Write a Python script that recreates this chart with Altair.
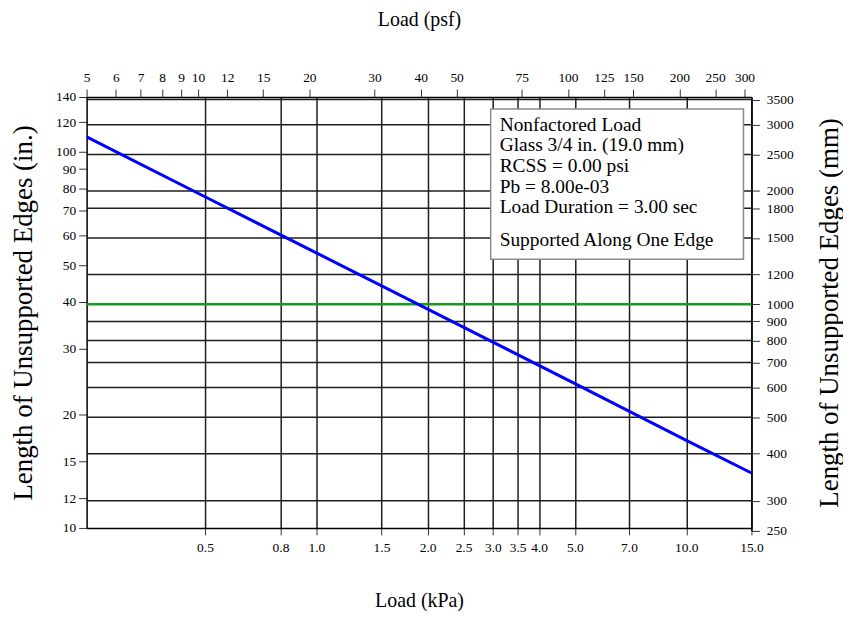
import altair as alt
import pandas as pd
import math

# ---- data ----
load_kpa = [0.2394, 0.5, 1.0, 2.0, 5.0, 10.0, 15.0]
length_in = [109.7, 76.0, 53.9, 38.2, 24.2, 17.1, 14.0]

kpa_ticks = [0.5, 0.8, 1.0, 1.5, 2.0, 2.5, 3.0, 3.5, 4.0, 5.0, 7.0, 10.0, 15.0]
psf_ticks = [5, 6, 7, 8, 9, 10, 12, 15, 20, 30, 40, 50, 75, 100, 125, 150, 200, 250, 300]
in_ticks = [10, 12, 15, 20, 30, 40, 50, 60, 70, 80, 90, 100, 120, 140]
mm_ticks = [250, 300, 400, 500, 600, 700, 800, 900, 1000, 1200, 1500, 1800, 2000, 2500, 3000, 3500]
mm_grid = [300, 400, 500, 600, 700, 800, 900, 1000, 1200, 1500, 1800, 2000, 2500, 3000, 3500]
green_mm = [1000]

info_lines = ["Nonfactored Load", "Glass 3/4 in. (19.0 mm)", "RCSS = 0.00 psi",
              "Pb = 8.00e-03", "Load Duration = 3.00 sec"]
info_last = "Supported Along One Edge"

KPA_MIN, KPA_MAX = 0.2394, 15.0
PSF_MIN, PSF_MAX = 5.0, 313.28
IN_MIN, IN_MAX = 10.0, 140.0
MM_MIN, MM_MAX = 250.0, 3556.0

W, H = 668, 433
FONT = "Liberation Serif"

df_line = pd.DataFrame({"kpa": load_kpa, "inch": length_in})
df_grid = pd.DataFrame({"mm": mm_grid, "lo": [PSF_MIN] * len(mm_grid), "hi": [PSF_MAX] * len(mm_grid)})
df_green = pd.DataFrame({"inch": [m / 25.4 for m in green_mm]})

# right-axis range extends slightly below the plot so 10 in == 254 mm
mm_bottom = H * math.log10(MM_MAX / MM_MIN) / math.log10(MM_MAX / 254.0)

grid_layer = alt.Chart(df_grid).mark_rule(color="#1e1e1e", strokeWidth=1.5).encode(
    x=alt.X("lo:Q", scale=alt.Scale(type="log", domain=[PSF_MIN, PSF_MAX], nice=False),
            axis=alt.Axis(orient="top", values=psf_ticks, format="d", grid=False,
                          tickSize=8, labelPadding=5, labelFlush=False, domainWidth=1.5,
                          title="Load (psf)", titleX=W / 2, titleY=-78,
                          titleBaseline="middle", titleAlign="center")),
    x2="hi:Q",
    y=alt.Y("mm:Q", scale=alt.Scale(type="log", domain=[MM_MIN, MM_MAX], range=[mm_bottom, 0], nice=False),
            axis=alt.Axis(orient="right", values=mm_ticks, format="d", grid=False,
                          tickSize=8, labelPadding=7, domainWidth=1.5,
                          title="Length of Unsupported Edges (mm)", titleX=78, titleY=H / 2,
                          titleFontSize=27,
                          titleAngle=270, titleBaseline="middle", titleAlign="center")),
)

x_main = alt.X("kpa:Q", scale=alt.Scale(type="log", domain=[KPA_MIN, KPA_MAX], nice=False),
               axis=alt.Axis(orient="bottom", values=kpa_ticks, format=".1f", grid=True,
                             gridColor="#1e1e1e", gridWidth=1.5, gridOpacity=1,
                             tickSize=7, labelPadding=6, labelFlush=False, domainWidth=1.5,
                             title="Load (kPa)", titleX=W / 2, titleY=73,
                             titleBaseline="middle", titleAlign="center"))
y_main = alt.Y("inch:Q", scale=alt.Scale(type="log", domain=[IN_MIN, IN_MAX], nice=False),
               axis=alt.Axis(orient="left", values=in_ticks, format="d", grid=False,
                             tickSize=8, labelPadding=3, domainWidth=1.5,
                             title="Length of Unsupported Edges (in.)", titleX=-63, titleY=H / 2,
                             titleFontSize=27,
                             titleAngle=270, titleBaseline="middle", titleAlign="center"))

line = alt.Chart(df_line).mark_line(color="#0000ff", strokeWidth=3).encode(x=x_main, y=y_main)
green = alt.Chart(df_green).mark_rule(color="#1a9a1a", strokeWidth=2.5).encode(y=y_main)

box = alt.Chart(df_green).mark_rect(fill="white", stroke="#8a8a8a", strokeWidth=1.5).encode(
    x=alt.value(406), x2=alt.value(660), y=alt.value(12), y2=alt.value(163))
txt1 = alt.Chart(df_green).mark_text(font=FONT, fontSize=19.5, align="left", baseline="top",
                                     lineHeight=20.7, color="black").encode(
    x=alt.value(415), y=alt.value(19), text=alt.value(info_lines))
txt2 = alt.Chart(df_green).mark_text(font=FONT, fontSize=19.5, align="left", baseline="middle",
                                     color="black").encode(
    x=alt.value(415), y=alt.value(144), text=alt.value(info_last))

main_layer = alt.layer(green, line, box, txt1, txt2)

chart = alt.layer(grid_layer, main_layer).resolve_scale(
    x="independent", y="independent"
).properties(
    width=W, height=H,
    autosize=alt.AutoSizeParams(type="none"),
    padding={"left": 79, "top": 88, "right": 92, "bottom": 82},
).configure_view(strokeWidth=0).configure_axis(
    labelFont=FONT, titleFont=FONT, labelFontSize=13.5, titleFontSize=20,
    titleFontWeight="normal", labelColor="black", titleColor="black",
    tickColor="#333333", domainColor="black",
)

chart.save("out.html", embed_options={"renderer": "svg", "actions": False})
